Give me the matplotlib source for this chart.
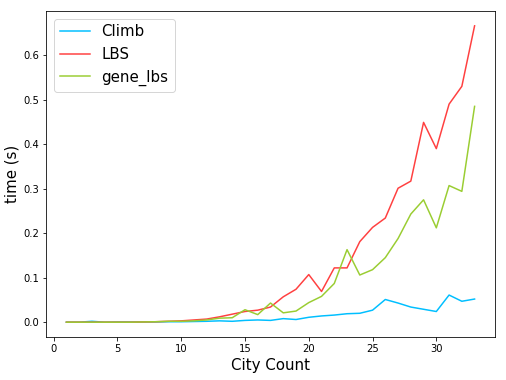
import matplotlib
matplotlib.use("Agg")
import matplotlib.pyplot as plt

city_count = list(range(1, 34))
climb = [0.0, 0.0, 0.002, 0.0, 0.0005, 0.0005, 0.0005, 0.0005, 0.001, 0.001, 0.0015, 0.002, 0.003, 0.002,
         0.004, 0.005, 0.004, 0.008, 0.006, 0.011, 0.014, 0.016, 0.019, 0.020, 0.027, 0.051, 0.043, 0.034,
         0.029, 0.024, 0.061, 0.047, 0.052]
lbs = [0.0, 0.0, 0.0, 0.0, 0.0, 0.0, 0.0005, 0.001, 0.002, 0.003, 0.005, 0.007, 0.012, 0.018,
       0.024, 0.027, 0.034, 0.057, 0.074, 0.107, 0.069, 0.122, 0.122, 0.181, 0.213, 0.234, 0.301, 0.317,
       0.449, 0.390, 0.490, 0.530, 0.666]
gene_lbs = [0.0, 0.0, 0.0, 0.0, 0.0, 0.0, 0.0005, 0.001, 0.002, 0.002, 0.003, 0.005, 0.009, 0.010,
            0.028, 0.017, 0.043, 0.021, 0.025, 0.044, 0.058, 0.087, 0.163, 0.106, 0.118, 0.145, 0.188, 0.243,
            0.275, 0.212, 0.307, 0.294, 0.485]

fig = plt.figure(figsize=(506 / 72, 380 / 72), dpi=72)
ax = fig.add_axes([46 / 506, 1 - 337 / 380, (495 - 46) / 506, (337 - 11) / 380])
ax.plot(city_count, climb, color="#00BFFF", label="Climb", lw=1.5)
ax.plot(city_count, lbs, color="#FF4040", label="LBS", lw=1.5)
ax.plot(city_count, gene_lbs, color="#9ACD32", label="gene_lbs", lw=1.5)
ax.set_xlabel("City Count", fontsize=15)
ax.set_ylabel("time (s)", fontsize=15)
ax.legend(loc="upper left", fontsize=15)
fig.savefig("out.png", dpi=72)
